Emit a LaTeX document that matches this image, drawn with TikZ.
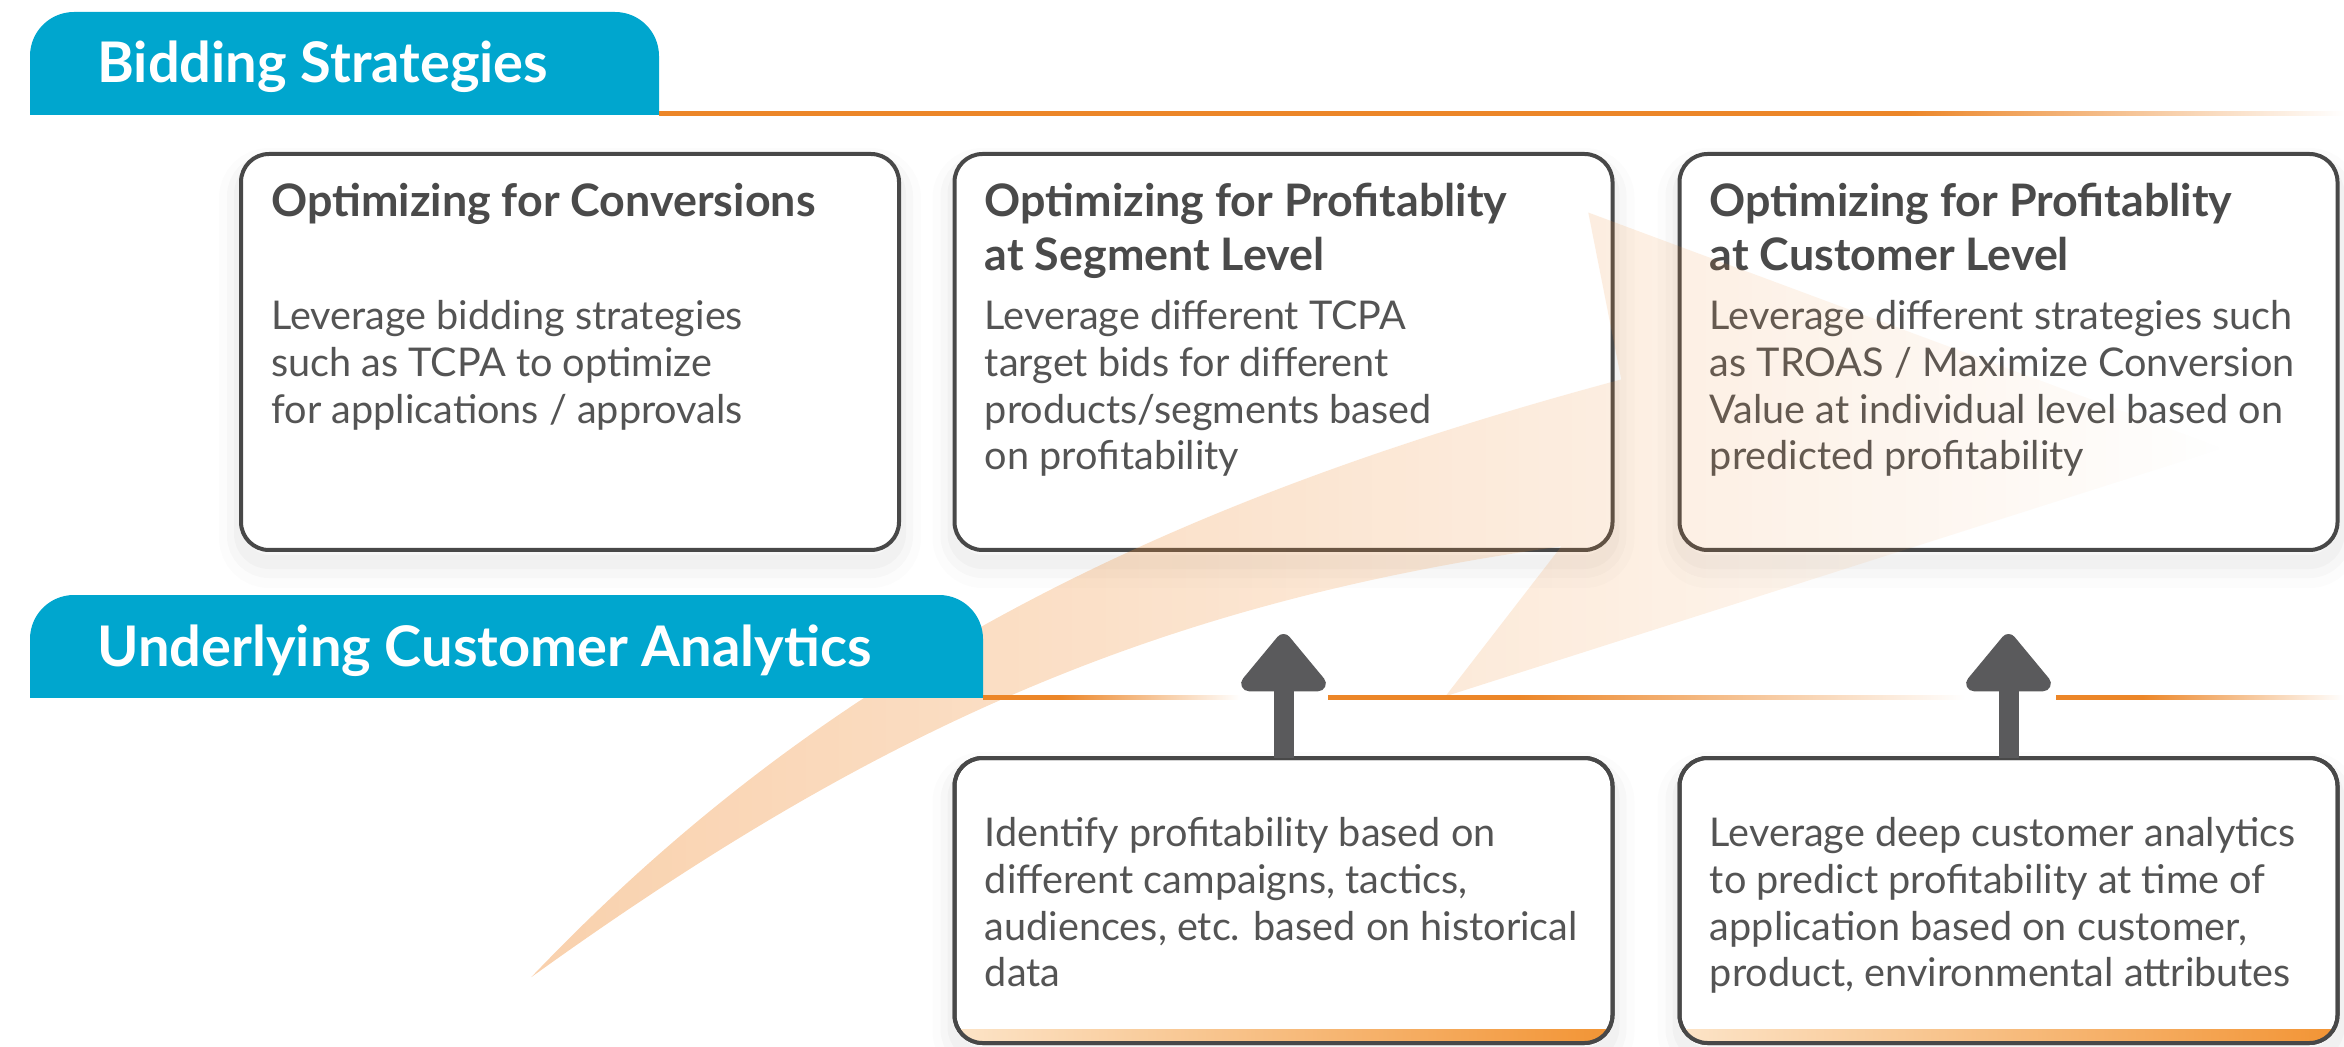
\documentclass[tikz,border=0pt]{standalone}
\usepackage{fontspec}
\setmainfont{Lato}
\usepackage{tikz}
\usetikzlibrary{arrows.meta, positioning, fadings}

\definecolor{tabteal}{RGB}{0,166,206}
\definecolor{inkgray}{RGB}{74,74,74}
\definecolor{bodygray}{RGB}{84,84,84}
\definecolor{rimgray}{RGB}{72,72,72}
\definecolor{arrowgray}{RGB}{90,90,92}
\definecolor{lineorange}{RGB}{236,134,40}
\definecolor{swooshorange}{RGB}{240,140,50}
\definecolor{barlight}{RGB}{252,228,200}
\definecolor{barorange}{RGB}{242,148,52}

\pgfdeclarehorizontalshading{longrule}{100bp}{%
  color(0bp)=(lineorange); color(25bp)=(lineorange); color(62bp)=(lineorange);
  color(75bp)=(white); color(100bp)=(white)}
\pgfdeclarehorizontalshading{shortrule}{100bp}{%
  color(0bp)=(lineorange); color(25bp)=(lineorange); color(40bp)=(lineorange);
  color(75bp)=(white); color(100bp)=(white)}
\tikzfading[name=swooshfade,
  left color=transparent!0, middle color=transparent!12, right color=transparent!100]

\tikzset{%
   card/.style={
      draw=rimgray,
      line width=2pt,
      fill=white,
      rounded corners=14pt,
      outer sep=0pt,
      inner sep=0pt,
      preaction={draw=black, draw opacity=.012, line width=22pt,
                 transform canvas={yshift=-8pt}},
      preaction={draw=black, draw opacity=.018, line width=14pt,
                 transform canvas={yshift=-7pt}},
      preaction={draw=black, draw opacity=.022, line width=7pt,
                 transform canvas={yshift=-6pt}}
   },
   topcard/.style={card, minimum width=329pt, minimum height=198pt},
   lowcard/.style={card, minimum width=329pt, minimum height=142.5pt},
   cardtitle/.style={
      anchor=north west, inner sep=0pt, align=left,
      text=inkgray, font=\fontsize{22.4}{27}\selectfont\bfseries
   },
   cardbody/.style={
      anchor=north west, inner sep=0pt, align=left,
      text=bodygray, font=\fontsize{19.8}{23.4}\selectfont
   },
   tabtext/.style={
      anchor=base west, inner sep=0pt,
      text=white, font=\fontsize{28}{32}\selectfont\bfseries
   },
   tab/.style={fill=tabteal, rounded corners=22pt},
   uparrow/.style={
      draw=arrowgray, line width=10pt, shorten >=42pt,
      -{Triangle[width=49pt, length=31pt, round]}
   }
}

\begin{document}
\begin{tikzpicture}[x=0.5pt, y=-0.5pt]
  \useasboundingbox (0,0) rectangle (2344,1047);

  % strategy cards
  \node[topcard] (convbox) at (570,352) {};
  \node[topcard] (segbox)  at (1283.5,352) {};
  \node[topcard] (custbox) at (2008.5,352) {};
  % analytics cards
  \node[lowcard] (histbox) at (1283.5,900.5) {};
  \node[lowcard] (predbox) at (2008.5,900.5) {};

  \foreach \crd in {histbox,predbox}{
    \begin{scope}
      \clip[rounded corners=14pt] (\crd.north west) rectangle (\crd.south east);
      \shade[left color=barlight, right color=barorange]
        ([yshift=7pt]\crd.south west) rectangle (\crd.south east);
    \end{scope}
    \draw[rimgray, line width=2pt, rounded corners=14pt]
      (\crd.north west) rectangle (\crd.south east);
  }

  \node[cardtitle] (convhead) at ([shift={(30,29)}]convbox.north west)
    {Optimizing for Conversions};
  \node[cardbody] (convtext) at ([shift={(30,146)}]convbox.north west)
    {Leverage bidding strategies\\such as TCPA to optimize\\for applications / approvals};

  \node[cardtitle] (seghead) at ([shift={(30,29)}]segbox.north west)
    {Optimizing for Profitablity\\at Segment Level};
  \node[cardbody] (segtext) at ([shift={(30,146)}]segbox.north west)
    {Leverage different TCPA\\target bids for different\\products/segments based\\on profitability};

  \node[cardtitle] (custhead) at ([shift={(30,29)}]custbox.north west)
    {Optimizing for Profitablity\\at Customer Level};
  \node[cardbody] (custtext) at ([shift={(30,146)}]custbox.north west)
    {Leverage different strategies such\\as TROAS / Maximize Conversion\\Value at individual level based on\\predicted profitability};

  \node[cardbody] (histtext) at ([shift={(30,59)}]histbox.north west)
    {Identify profitability based on\\different campaigns, tactics,\\audiences, etc. based on historical\\data};
  \node[cardbody] (predtext) at ([shift={(30,59)}]predbox.north west)
    {Leverage deep customer analytics\\to predict profitability at time of\\application based on customer,\\product, environmental attributes};

  % growth swoosh
  \fill[swooshorange, fill opacity=.4, path fading=swooshfade]
    (532,977) .. controls (832,662) and (1173,500) .. (1623,379)
    -- (1590,212) -- (2225,448) -- (1447,696) -- (1563,546)
    .. controls (1163,602) and (882,725) .. (532,977) -- cycle;

  % section tabs
  \begin{scope}
    \clip (0,0) rectangle (2344,115);
    \fill[tab] (30,12) rectangle (659,200);
  \end{scope}
  \begin{scope}
    \clip (0,560) rectangle (2344,697);
    \fill[tab] (30,595) rectangle (983,780);
  \end{scope}
  \node[tabtext] (bidtab) at (97,83) {Bidding Strategies};
  \node[tabtext] (anatab) at (97,666) {Underlying Customer Analytics};

  \shade[shading=longrule] (659,112) rectangle (2344,116);
  \shade[shading=shortrule] (983,695) rectangle (1240,699);
  \shade[shading=shortrule] (1328,695) rectangle (1965,699);
  \shade[shading=shortrule] (2056,695) rectangle (2344,699);

  \draw[uparrow] (histbox) -- (segbox);
  \draw[uparrow] (predbox) -- (custbox);
\end{tikzpicture}
\end{document}
